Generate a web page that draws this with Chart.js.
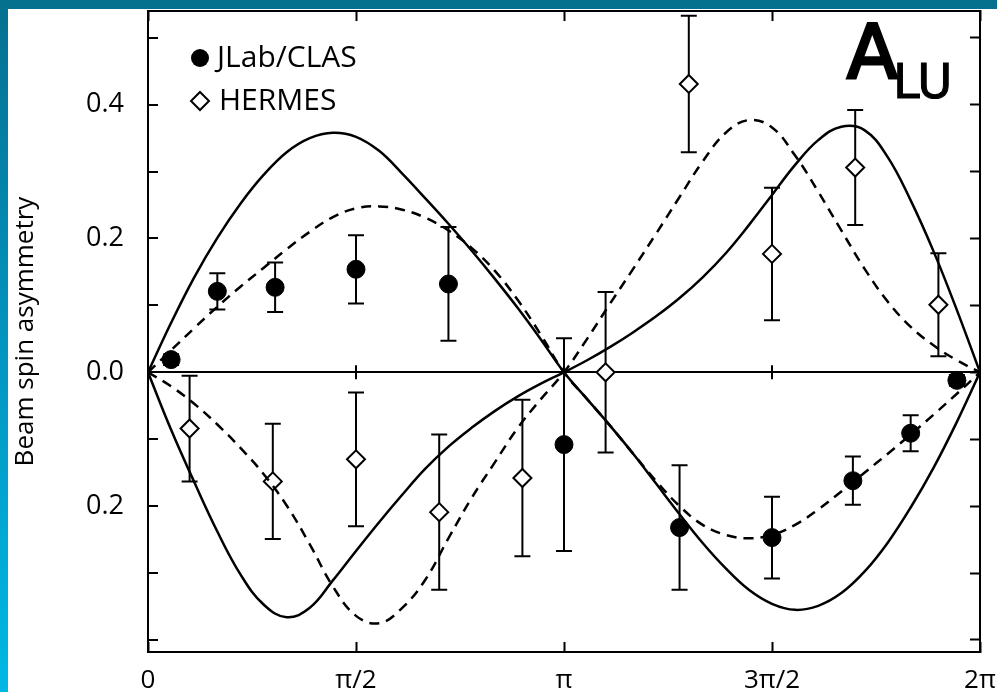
<!DOCTYPE html>
<html>
<head>
<meta charset="utf-8">
<script src="https://cdn.jsdelivr.net/npm/chart.js@4.4.1/dist/chart.umd.min.js"></script>
<style>
  html, body { margin: 0; padding: 0; background: #fff; }
  #wrap { width: 997px; height: 692px; }
</style>
</head>
<body>
<div id="wrap"><canvas id="alu" width="997" height="692"></canvas></div>
<script>
// azimuthal angle phi in degrees, curves sampled every 10 deg
const curvePhi = [0, 10, 20, 30, 40, 50, 60, 70, 80, 90, 100, 110, 120, 130, 140, 150, 160, 170, 180,
  190, 200, 210, 220, 230, 240, 250, 260, 270, 280, 290, 300, 310, 320, 330, 340, 350, 360];

// solid curves
const solidA = [0, 0.074, 0.142, 0.201, 0.252, 0.295, 0.329, 0.350, 0.358, 0.352, 0.331, 0.297, 0.260, 0.222, 0.182, 0.140, 0.096, 0.049, 0,
  -0.040, -0.080, -0.122, -0.167, -0.212, -0.255, -0.293, -0.325, -0.346, -0.355, -0.349, -0.330, -0.298, -0.255, -0.202, -0.142, -0.074, 0];
const solidB = [0, -0.086, -0.164, -0.238, -0.302, -0.347, -0.366, -0.352, -0.311, -0.267, -0.224, -0.183, -0.144, -0.111, -0.083, -0.058, -0.036, -0.017, 0,
  0.018, 0.038, 0.060, 0.084, 0.111, 0.142, 0.178, 0.220, 0.265, 0.310, 0.347, 0.367, 0.362, 0.322, 0.257, 0.180, 0.093, 0];

// dashed curves
const dashA = [0, 0.033, 0.066, 0.098, 0.128, 0.156, 0.184, 0.210, 0.232, 0.245, 0.248, 0.243, 0.231, 0.212, 0.186, 0.152, 0.108, 0.056, 0,
  -0.040, -0.080, -0.122, -0.163, -0.200, -0.228, -0.243, -0.248, -0.243, -0.228, -0.205, -0.178, -0.150, -0.122, -0.093, -0.063, -0.032, 0];
const dashB = [0, -0.021, -0.047, -0.078, -0.113, -0.152, -0.199, -0.257, -0.320, -0.364, -0.375, -0.352, -0.310, -0.248, -0.188, -0.135, -0.083, -0.040, 0,
  0.050, 0.103, 0.155, 0.208, 0.262, 0.315, 0.358, 0.377, 0.366, 0.324, 0.270, 0.212, 0.155, 0.106, 0.068, 0.040, 0.018, 0];

// JLab/CLAS points
const clasPhi = [10, 30, 55, 90, 130, 180, 230, 270, 305, 330, 350];
const clasVal = [0.019, 0.121, 0.127, 0.154, 0.132, -0.108, -0.232, -0.247, -0.162, -0.091, -0.012];
const clasErr = [0.008, 0.027, 0.037, 0.051, 0.085, 0.159, 0.093, 0.061, 0.036, 0.027, 0.008];

// HERMES points
const hermesPhi = [18, 54, 90, 126, 162, 198, 234, 270, 306, 342];
const hermesVal = [-0.084, -0.163, -0.130, -0.209, -0.158, 0.0, 0.431, 0.177, 0.306, 0.101];
const hermesErr = [0.079, 0.086, 0.100, 0.116, 0.117, 0.120, 0.102, 0.099, 0.086, 0.077];

// axis labels
const xTickVals = [0, 90, 180, 270, 360];
const xTickText = ['0', 'π/2', 'π', '3π/2', '2π'];
const yTickVals = [-0.2, 0, 0.2, 0.4];
const yTickText = ['0.2', '0.0', '0.2', '0.4'];

const FONT = '"Open Sans", "Noto Sans", sans-serif';

function pts(xs, ys) {
  return xs.map((x, i) => ({ x: x, y: ys[i] }));
}

function labelFor(vals, texts, v) {
  for (let i = 0; i < vals.length; i++) {
    if (Math.abs(vals[i] - v) < 1e-6) return texts[i];
  }
  return '';
}

// blue frame behind the plot
const frame = {
  id: 'frame',
  beforeDraw(chart) {
    const ctx = chart.ctx;
    ctx.save();
    ctx.fillStyle = '#fff';
    ctx.fillRect(0, 0, chart.width, chart.height);
    const g = ctx.createLinearGradient(0, 0, 0, chart.height);
    g.addColorStop(0, '#06708f');
    g.addColorStop(0.5, '#0395c0');
    g.addColorStop(1, '#00b8e4');
    ctx.fillStyle = g;
    ctx.fillRect(0, 0, 8, chart.height);
    ctx.fillStyle = '#06708f';
    ctx.fillRect(0, 0, chart.width, 9);
    ctx.restore();
  }
};

// vertical error bars with caps
const errorBars = {
  id: 'errorBars',
  beforeDatasetsDraw(chart) {
    const ctx = chart.ctx;
    const xs = chart.scales.x, ys = chart.scales.y;
    ctx.save();
    ctx.strokeStyle = '#000';
    ctx.lineWidth = 2;
    [[clasPhi, clasVal, clasErr], [hermesPhi, hermesVal, hermesErr]].forEach(set => {
      set[0].forEach((phi, i) => {
        const px = xs.getPixelForValue(phi);
        const top = ys.getPixelForValue(set[1][i] + set[2][i]);
        const bot = ys.getPixelForValue(set[1][i] - set[2][i]);
        ctx.beginPath();
        ctx.moveTo(px, top); ctx.lineTo(px, bot);
        ctx.moveTo(px - 8, top); ctx.lineTo(px + 8, top);
        ctx.moveTo(px - 8, bot); ctx.lineTo(px + 8, bot);
        ctx.stroke();
      });
    });
    // little crossing ticks on the zero line
    const y0 = ys.getPixelForValue(0);
    ctx.beginPath();
    [90, 180, 270].forEach(v => {
      const px = xs.getPixelForValue(v);
      ctx.moveTo(px, y0 - 7); ctx.lineTo(px, y0 + 7);
    });
    ctx.stroke();
    ctx.restore();
  }
};

// legend and A_LU label inside the plot
const annot = {
  id: 'annot',
  afterDraw(chart) {
    const ctx = chart.ctx;
    const a = chart.chartArea;
    ctx.save();
    ctx.fillStyle = '#000';
    ctx.strokeStyle = '#000';
    ctx.lineWidth = 2;
    ctx.beginPath();
    ctx.arc(a.left + 52, a.top + 47, 9, 0, Math.PI * 2);
    ctx.fill();
    const dx = a.left + 52, dy = a.top + 90;
    ctx.beginPath();
    ctx.moveTo(dx, dy - 9); ctx.lineTo(dx + 9, dy); ctx.lineTo(dx, dy + 9); ctx.lineTo(dx - 9, dy); ctx.closePath();
    ctx.fillStyle = '#fff'; ctx.fill(); ctx.stroke();
    ctx.fillStyle = '#000';
    ctx.font = '30px ' + FONT;
    ctx.textBaseline = 'middle';
    ctx.fillText(chart.data.datasets[4].label, a.left + 69, a.top + 47);
    ctx.fillText(chart.data.datasets[5].label, a.left + 71, a.top + 90);
    ctx.textBaseline = 'alphabetic';
    ctx.font = '74px "Comic Sans MS", "DejaVu Sans", sans-serif';
    ctx.lineWidth = 3;
    ctx.fillText('A', a.right - 133, a.top + 67);
    ctx.strokeText('A', a.right - 133, a.top + 67);
    ctx.font = '48px "Comic Sans MS", "DejaVu Sans", sans-serif';
    ctx.lineWidth = 1;
    ctx.fillText('LU', a.right - 87, a.top + 87);
    ctx.strokeText('LU', a.right - 87, a.top + 87);
    ctx.restore();
  }
};

function boxAxis(extra) {
  return Object.assign({
    type: 'linear',
    grid: { drawOnChartArea: false, drawTicks: true, tickLength: -10, tickColor: '#000', tickWidth: 2 },
    border: { display: true, color: '#000', width: 2 }
  }, extra);
}

const curveStyle = { showLine: true, borderColor: '#000', borderWidth: 2.5, pointRadius: 0, tension: 0.4 };

new Chart(document.getElementById('alu'), {
  type: 'scatter',
  data: {
    datasets: [
      Object.assign({ label: 'solid 1', data: pts(curvePhi, solidA) }, curveStyle),
      Object.assign({ label: 'solid 2', data: pts(curvePhi, solidB) }, curveStyle),
      Object.assign({ label: 'dashed 1', data: pts(curvePhi, dashA), borderDash: [10, 7] }, curveStyle),
      Object.assign({ label: 'dashed 2', data: pts(curvePhi, dashB), borderDash: [10, 7] }, curveStyle),
      { label: 'JLab/CLAS', data: pts(clasPhi, clasVal), pointStyle: 'circle', pointRadius: 9, backgroundColor: '#000', borderColor: '#000', borderWidth: 1 },
      { label: 'HERMES', data: pts(hermesPhi, hermesVal), pointStyle: 'rectRot', pointRadius: 9, backgroundColor: '#fff', borderColor: '#000', borderWidth: 2 }
    ]
  },
  options: {
    responsive: false,
    devicePixelRatio: 1,
    animation: false,
    layout: { padding: { left: 0, top: 10, right: 17, bottom: 0 } },
    plugins: { legend: { display: false }, tooltip: { enabled: false } },
    scales: {
      x: boxAxis({
        position: 'bottom', min: 0, max: 360,
        ticks: {
          stepSize: 90, padding: 23, color: '#000', font: { family: FONT, size: 26 },
          maxRotation: 0, autoSkip: false,
          callback: v => labelFor(xTickVals, xTickText, v)
        },
        afterFit: s => { s.height = 40; s.paddingLeft = 0; s.paddingRight = 0; }
      }),
      x2: boxAxis({
        position: 'top', min: 0, max: 360,
        ticks: { stepSize: 90, display: false },
        afterFit: s => { s.height = 0; }
      }),
      y: boxAxis({
        position: 'left', min: -0.418, max: 0.54,
        grid: {
          drawOnChartArea: true, drawTicks: true, tickLength: -10, tickColor: '#000', tickWidth: 2,
          color: c => (c.tick && Math.abs(c.tick.value) < 1e-6) ? '#000' : 'rgba(0,0,0,0)',
          lineWidth: 2
        },
        ticks: {
          stepSize: 0.1, includeBounds: false, padding: 34, color: '#000', font: { family: FONT, size: 27 },
          callback: v => labelFor(yTickVals, yTickText, v)
        },
        title: { display: true, text: 'Beam spin asymmetry', color: '#000', font: { family: FONT, size: 26 }, padding: { top: 10, bottom: 0 } },
        afterFit: s => { s.width = 148; s.paddingTop = 0; s.paddingBottom = 0; }
      }),
      y2: boxAxis({
        position: 'right', min: -0.418, max: 0.54,
        ticks: { stepSize: 0.1, includeBounds: false, display: false },
        afterFit: s => { s.width = 0; }
      })
    }
  },
  plugins: [frame, errorBars, annot]
});
</script>
</body>
</html>
